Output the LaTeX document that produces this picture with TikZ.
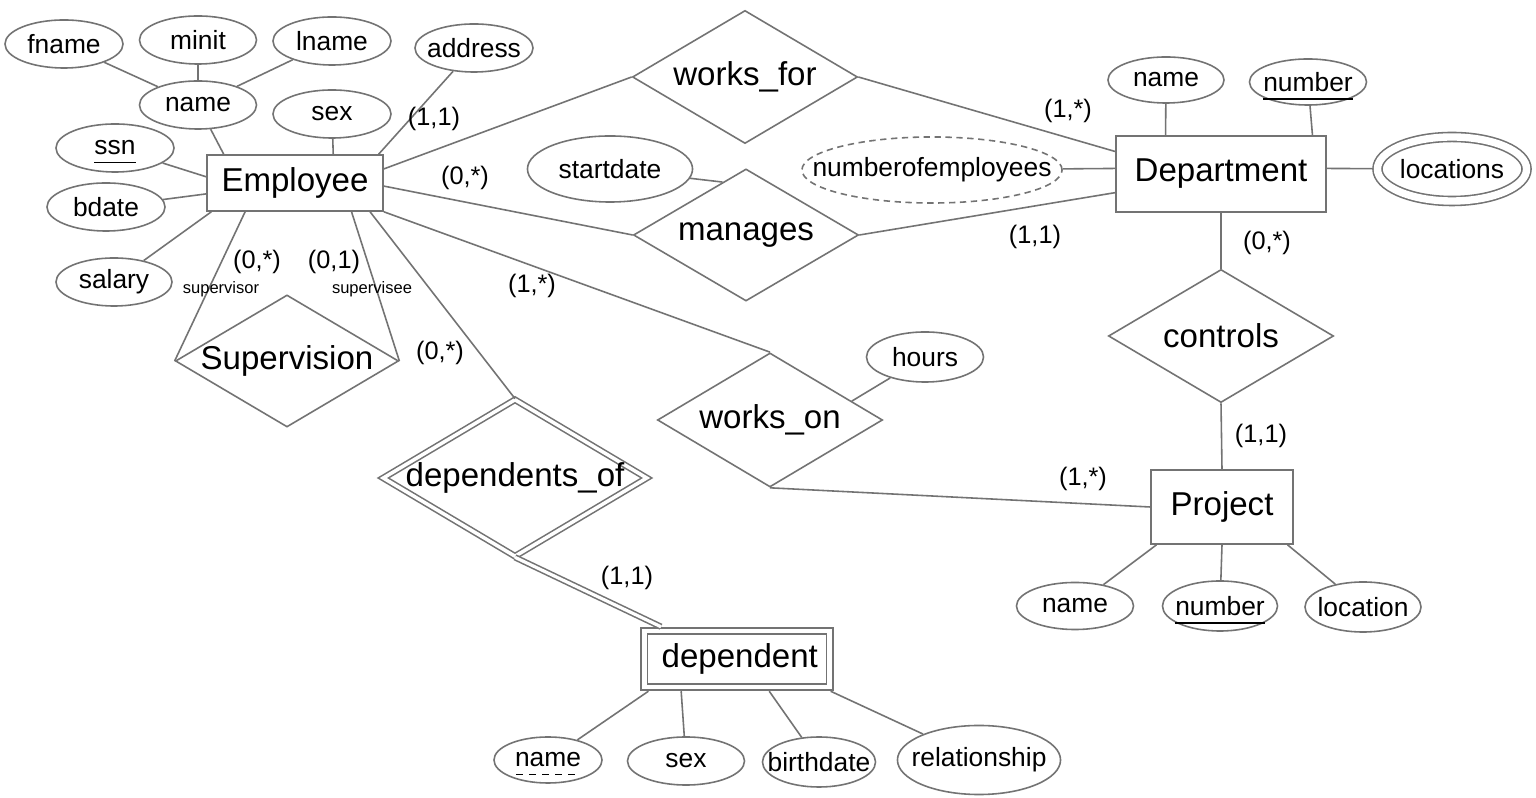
\documentclass[tikz,border=0pt]{standalone}
\usepackage{fontspec}
\setmainfont{Liberation Sans}
\usetikzlibrary{shapes.geometric}
\newsavebox{\keybox}
\newcommand{\keyline}[1]{\sbox{\keybox}{#1}\smash{\rlap{\rule[-2.4pt]{\wd\keybox}{0.4pt}}}\usebox{\keybox}}
\newcommand{\partkey}[1]{\sbox{\keybox}{#1}\smash{\rlap{\raisebox{-2.4pt}{\hbox to \wd\keybox{\xleaders\hbox to 3.4pt{\rule{2pt}{0.35pt}\hss}\hfill}}}}\usebox{\keybox}}
\begin{document}
\begin{tikzpicture}[x=0.01cm, y=-0.01cm,
  erline/.style={draw=black!55, line width=0.45pt},
  nowidth/.style={execute at begin node={\hbox to 0pt\bgroup\hss}, execute at end node={\hss\egroup}},
  entity/.style={rectangle, erline, inner sep=0pt, font=\fontsize{9.4}{11}\selectfont},
  relation/.style={diamond, erline, inner sep=0pt, aspect=1.7, nowidth, minimum width=2.25cm, minimum height=1.33cm, font=\fontsize{9.4}{11}\selectfont},
  attr/.style={ellipse, erline, inner sep=0pt, nowidth, minimum width=1.17cm, minimum height=0.48cm, font=\fontsize{7.5}{9}\selectfont},
  card/.style={inner sep=0pt, font=\fontsize{7.2}{9}\selectfont},
  role/.style={inner sep=0pt, font=\fontsize{4.7}{6}\selectfont}]
\path[use as bounding box, fill=white] (0,0) rectangle (1536,798);

\node (emp) at (295,183) [entity, minimum width=1.76cm, minimum height=0.56cm] {Employee};
\node (dept) at (1221,174) [entity, minimum width=2.10cm, minimum height=0.76cm] {Department};
\node (proj) at (1222,507) [entity, minimum width=1.42cm, minimum height=0.74cm] {Project};
\node (dep) at (737,659) [entity, double, double distance=1.4pt, outer sep=1.2pt, minimum width=1.85cm, minimum height=0.56cm] {\,dependent};

\node (worksfor) at (745,77) [relation] {works\_for};
\node (manages) at (746,235) [relation, minimum height=1.32cm] {manages};
\node (superv) at (287,361) [relation, minimum width=2.23cm, minimum height=1.32cm] {Supervision};
\node (workson) at (770,420) [relation, minimum height=1.34cm] {works\_on};
\node (controls) at (1221,336) [relation] {controls};
\node (depof) at (515,478) [relation, double, double distance=1pt, minimum width=2.64cm, minimum height=1.57cm] {dependents\_of};

\node (fname) at (64,44) [attr, minimum width=1.18cm] {fname};
\node (minit) at (198,40) [attr] {minit};
\node (lname) at (332,41) [attr, minimum width=1.18cm] {lname};
\node (name) at (198,105) [attr] {name};
\node (address) at (474,48) [attr, minimum width=1.18cm] {address};
\node (sex) at (332,114) [attr, minimum width=1.18cm] {sex};
\node (ssn) at (115,148) [attr, minimum width=1.18cm] {\keyline{ssn}};
\node (bdate) at (106,207) [attr, minimum width=1.18cm] {bdate};
\node (salary) at (114,282) [attr, minimum width=1.16cm] {salary};
\node (startdate) at (610,169) [attr, minimum width=1.65cm, minimum height=0.66cm] {startdate};
\node (noe) at (932,170) [attr, dash pattern=on 1.8pt off 1.3pt, minimum width=2.60cm, minimum height=0.66cm] {numberofemployees};
\node (dname) at (1166,80) [attr, minimum width=1.16cm, minimum height=0.46cm] {name};
\node (dnum) at (1308,82) [attr, minimum height=0.46cm] {\keyline{number}};
\node (loc) at (1452,169) [attr, double, double distance=2.1pt, outer sep=1.3pt, minimum width=1.49cm, minimum height=0.64cm] {locations};
\node (hours) at (925,357) [attr, minimum height=0.50cm] {hours};
\node (pname) at (1075,606) [attr, minimum height=0.47cm] {name};
\node (pnum) at (1220,606) [attr, minimum width=1.15cm, minimum height=0.50cm] {\keyline{number}};
\node (ploc) at (1363,607) [attr, minimum width=1.16cm, minimum height=0.50cm] {location};
\node (depname) at (548,760) [attr, minimum width=1.08cm, minimum height=0.46cm] {\partkey{name}};
\node (depsex) at (686,761) [attr] {sex};
\node (depbirth) at (819,762) [attr, minimum width=1.13cm, minimum height=0.50cm] {birthdate};
\node (deprel) at (979,760) [attr, minimum width=1.63cm, minimum height=0.69cm] {relationship};

\draw[erline] (fname) -- (name);
\draw[erline] (minit) -- (name);
\draw[erline] (lname) -- (name);
\draw[erline] (name) -- (emp.158.5);
\draw[erline] (sex) -- (emp.37.1);
\draw[erline] (address) -- (emp.19.5);
\draw[erline] (ssn) -- (emp.176.1);
\draw[erline] (bdate) -- (emp.187.8);
\draw[erline] (salary) -- (emp.199.1);

\draw[erline] (emp.9.7) -- (worksfor.west);
\draw[erline] (emp.-2.6) -- (manages.west);
\draw[erline] (emp.south east) -- (workson.north);
\draw[erline] (emp.210.8) -- (superv.west);
\draw[erline] (emp.-27.4) -- (superv.east);
\draw[erline] (emp.-21.3) -- (depof.north);
\draw[erline, double, double distance=0.9pt] (depof.south) -- (dep.157.1);

\draw[erline] (startdate) -- (manages.114);
\draw[erline] (hours) -- (workson.13);
\draw[erline] (workson.south) -- (proj.west);
\draw[erline] (worksfor.east) -- (dept.168.2);
\draw[erline] (manages.east) -- (dept.190.8);
\draw[erline] (noe) -- (dept.177);
\draw[erline] (dept.3) -- (loc);
\draw[erline] (dname) -- (dept.145.4);
\draw[erline] (dnum) -- (dept.23.4);
\draw[erline] (dept.south) -- (controls.north);
\draw[erline] (controls.south) -- (proj.north);
\draw[erline] (pname) -- (proj.210);
\draw[erline] (pnum) -- (proj.south);
\draw[erline] (ploc) -- (proj.-30.4);

\draw[erline] (depname) -- (dep.200.8);
\draw[erline] (depsex) -- (dep.210.1);
\draw[erline] (depbirth) -- (dep.-45.5);
\draw[erline] (deprel) -- (dep.-19.1);

\node (c1) at (434,119) [card] {(1,1)};
\node (c2) at (465,178) [card] {(0,*)};
\node (c3) at (532,286) [card] {(1,*)};
\node (c4) at (257,262) [card] {(0,*)};
\node (c5) at (334,262) [card] {(0,1)};
\node (c6) at (440,353) [card] {(0,*)};
\node (c7) at (627,578) [card] {(1,1)};
\node (c8) at (1068,111) [card] {(1,*)};
\node (c9) at (1035,237) [card] {(1,1)};
\node (c10) at (1267,243) [card] {(0,*)};
\node (c11) at (1261,436) [card] {(1,1)};
\node (c12) at (1083,479) [card] {(1,*)};
\node (r1) at (221,289) [role] {supervisor};
\node (r2) at (372,289) [role] {supervisee};
\end{tikzpicture}
\end{document}
